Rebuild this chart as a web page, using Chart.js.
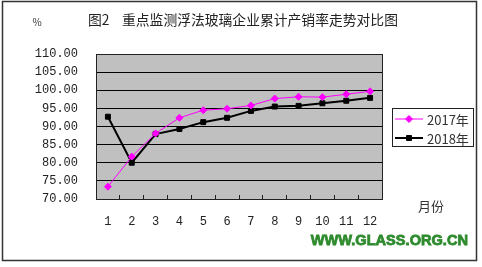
<!DOCTYPE html>
<html>
<head>
<meta charset="utf-8">
<script src="https://cdn.jsdelivr.net/npm/chart.js@4/dist/chart.umd.min.js"></script>
<style>
  html, body { margin: 0; padding: 0; background: #fff; }
  #wrap { width: 482px; height: 267px; }
</style>
</head>
<body>
<div id="wrap"><canvas id="myChart" width="482" height="267"></canvas></div>
<script>
// data
const months = ["1", "2", "3", "4", "5", "6", "7", "8", "9", "10", "11", "12"];
const rate2017 = [73.4, 81.7, 88.1, 92.4, 94.5, 94.9, 95.8, 97.7, 98.2, 98.1, 98.9, 99.7];
const rate2018 = [92.7, 80.0, 87.9, 89.3, 91.2, 92.4, 94.3, 95.5, 95.7, 96.4, 97.1, 97.9];
const seriesNames = ["2017年", "2018年"];
const yMin = 70, yMax = 110, yStep = 5;

const titleLead = "图2";
const titleText = "重点监测浮法玻璃企业累计产销率走势对比图";
const monoFont = "'Liberation Mono', 'DejaVu Sans Mono', monospace";
const cjkFont = "'Noto Sans CJK SC', 'Noto Sans', sans-serif";

// gray plot area, outer frame, legend and the loose texts
const decor = {
  id: 'decor',
  beforeDraw(chart) {
    const { ctx, chartArea: a } = chart;
    ctx.save();
    ctx.fillStyle = '#fff';
    ctx.fillRect(0, 0, chart.width, chart.height);
    ctx.fillStyle = '#c0c0c0';
    ctx.fillRect(a.left, a.top, a.right - a.left, a.bottom - a.top);
    ctx.restore();
  },
  afterDraw(chart) {
    const { ctx, chartArea: a } = chart;
    ctx.save();
    // plot frame
    ctx.strokeStyle = '#222';
    ctx.lineWidth = 1;
    ctx.strokeRect(Math.round(a.left) + 0.5, Math.round(a.top) + 0.5,
      Math.round(a.right - a.left), Math.round(a.bottom - a.top));
    // outer frame
    ctx.strokeStyle = '#333';
    ctx.lineWidth = 1.5;
    ctx.strokeRect(2.5, 1.5, 474, 259);

    // title
    ctx.fillStyle = '#222';
    ctx.textBaseline = 'middle';
    ctx.textAlign = 'left';
    ctx.font = "13.8px " + cjkFont;
    ctx.fillText(titleLead, 88, 20);
    ctx.fillText(titleText, 122, 20);

    ctx.fillStyle = '#333';
    ctx.font = "10px " + cjkFont;
    ctx.textAlign = 'center';
    ctx.fillText('%', 37, 22);

    ctx.font = "13px " + cjkFont;
    ctx.fillText('月份', 431, 206);

    ctx.fillStyle = '#2e8b2e';
    ctx.strokeStyle = '#2e8b2e';
    ctx.lineWidth = 0.8;
    ctx.font = "bold 14.6px 'Liberation Sans', Arial, sans-serif";
    ctx.textAlign = 'right';
    ctx.fillText('WWW.GLASS.ORG.CN', 468, 241);
    ctx.strokeText('WWW.GLASS.ORG.CN', 468, 241);

    // legend box
    const lx = 392, ly = 108, lw = 81, lh = 38;
    ctx.fillStyle = '#fff';
    ctx.fillRect(lx, ly, lw, lh);
    ctx.strokeStyle = '#222';
    ctx.lineWidth = 1;
    ctx.strokeRect(lx + 0.5, ly + 0.5, lw, lh);
    chart.data.datasets.forEach((ds, i) => {
      const y = ly + 11 + i * 19;
      ctx.strokeStyle = ds.borderColor;
      ctx.lineWidth = ds.borderWidth;
      ctx.beginPath();
      ctx.moveTo(lx + 3, y);
      ctx.lineTo(lx + 31, y);
      ctx.stroke();
      ctx.fillStyle = ds.pointBackgroundColor;
      ctx.lineWidth = 1;
      Chart.helpers.drawPoint(ctx, {
        pointStyle: ds.pointStyle, radius: ds.pointRadius, borderWidth: 1
      }, lx + 17, y);
      ctx.fillStyle = '#333';
      ctx.font = "13px " + cjkFont;
      ctx.textAlign = 'left';
      ctx.textBaseline = 'middle';
      ctx.fillText(ds.label, lx + 35, y + 1);
    });
    ctx.restore();
  }
};

const ctx = document.getElementById('myChart').getContext('2d');
const myChart = new Chart(ctx, {
  type: 'line',
  data: {
    labels: months,
    datasets: [{
      label: seriesNames[0],
      data: rate2017,
      borderColor: '#ff00ff',
      backgroundColor: '#ff00ff',
      pointBackgroundColor: '#ff00ff',
      pointBorderColor: '#ff00ff',
      borderWidth: 1,
      pointStyle: 'rectRot',
      pointRadius: 3.5,
      pointBorderWidth: 1,
      tension: 0,
      fill: false
    }, {
      label: seriesNames[1],
      data: rate2018,
      borderColor: '#000000',
      backgroundColor: '#000000',
      pointBackgroundColor: '#000000',
      pointBorderColor: '#000000',
      borderWidth: 2,
      pointStyle: 'rect',
      pointRadius: 3.5,
      pointBorderWidth: 1,
      tension: 0,
      fill: false
    }]
  },
  options: {
    responsive: false,
    animation: false,
    events: [],
    layout: { padding: { left: 0, right: 100, top: 54, bottom: 0 } },
    plugins: {
      legend: { display: false },
      tooltip: { enabled: false },
      title: { display: false }
    },
    scales: {
      x: {
        offset: true,
        grid: {
          offset: true,
          drawOnChartArea: false,
          drawTicks: true,
          tickLength: -4,
          color: '#222'
        },
        border: { display: false },
        ticks: {
          color: '#222',
          padding: 20,
          maxRotation: 0,
          font: { family: monoFont, size: 12 }
        },
        afterFit(scale) { scale.height = 68; }
      },
      y: {
        min: yMin,
        max: yMax,
        grid: { color: '#000', lineWidth: 1, drawTicks: false },
        border: { display: false },
        ticks: {
          stepSize: yStep,
          color: '#222',
          padding: 18,
          font: { family: monoFont, size: 12 },
          callback: (v) => v.toFixed(2)
        },
        afterFit(scale) { scale.width = 96; }
      }
    }
  },
  plugins: [decor]
});
</script>
</body>
</html>
